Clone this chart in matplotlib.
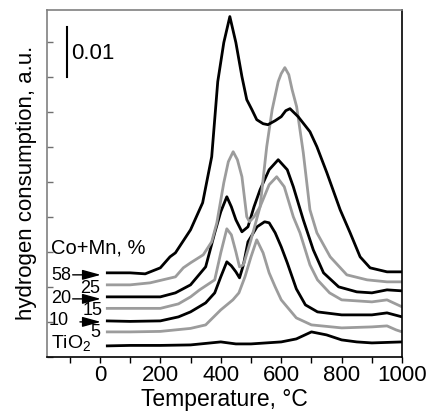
import matplotlib
matplotlib.use('Agg')
import matplotlib.pyplot as plt
from matplotlib.ticker import MultipleLocator, NullFormatter

plt.rcParams['font.family'] = ['Liberation Sans', 'DejaVu Sans']

# TPR curves, signal in 1e-3 a.u. (vertical offsets as in the figure)
t_tio2 = [20, 100, 200, 300, 400, 450, 500, 550, 600, 650, 700, 750, 800, 850, 900, 950, 1000]
y_tio2 = [2.2, 2.3, 2.3, 2.4, 3.0, 2.6, 2.6, 2.8, 3.0, 3.6, 5.0, 4.4, 3.4, 3.0, 2.8, 2.9, 3.0]

t_5 = [20, 100, 200, 300, 350, 400, 420, 440, 460, 480, 500, 519, 540, 560, 580, 600, 650, 700, 800, 900, 950, 980, 1000]
y_5 = [5.0, 5.0, 5.1, 5.7, 6.4, 9.4, 10.4, 11.4, 12.8, 16.0, 20.0, 23.4, 20.8, 16.8, 14.0, 11.4, 7.8, 6.4, 5.8, 6.0, 6.2, 5.4, 5.0]

t_10 = [20, 100, 200, 260, 300, 350, 380, 400, 420, 435, 450, 462, 475, 490, 520, 545, 560, 580, 600, 620, 650, 680, 720, 800, 900, 950, 1000]
y_10 = [7.2, 7.1, 7.2, 8.0, 9.0, 10.8, 12.8, 16.0, 19.0, 18.2, 17.0, 15.8, 18.4, 23.0, 26.0, 27.0, 26.8, 24.8, 22.0, 18.8, 13.6, 10.4, 9.0, 8.4, 8.4, 8.8, 8.0]

t_15 = [20, 100, 200, 260, 300, 330, 380, 400, 420, 435, 450, 462, 475, 500, 530, 560, 585, 610, 640, 662, 695, 720, 760, 800, 900, 950, 1000]
y_15 = [9.7, 9.7, 9.7, 10.6, 12.0, 13.4, 15.4, 20.8, 25.6, 24.4, 21.0, 18.0, 18.4, 23.4, 30.0, 34.4, 36.0, 34.0, 28.0, 24.8, 18.4, 15.4, 12.8, 11.4, 11.0, 11.4, 10.0]

t_20 = [20, 100, 200, 250, 300, 350, 380, 400, 420, 435, 450, 470, 490, 510, 530, 560, 590, 620, 640, 673, 706, 740, 790, 850, 900, 950, 1000]
y_20 = [12.0, 12.0, 12.0, 12.8, 14.4, 18.0, 24.8, 29.0, 32.0, 30.0, 27.4, 25.0, 26.0, 30.0, 33.4, 37.4, 39.4, 37.4, 34.0, 27.4, 21.4, 16.8, 14.0, 13.0, 12.8, 13.4, 13.2]

t_25 = [20, 100, 166, 250, 276, 300, 342, 370, 387, 410, 425, 441, 455, 470, 486, 495, 510, 530, 552, 570, 590, 600, 612, 625, 636, 651, 673, 695, 718, 762, 817, 884, 950, 1000]
y_25 = [14.4, 14.4, 14.8, 16.0, 17.8, 18.8, 20.4, 23.0, 26.8, 34.8, 39.0, 41.0, 39.4, 36.0, 28.0, 27.0, 28.0, 30.0, 42.0, 49.4, 55.0, 56.6, 57.8, 56.4, 53.4, 50.0, 40.8, 29.4, 24.8, 20.0, 16.4, 15.4, 15.0, 15.0]

t_58 = [20, 100, 150, 200, 232, 250, 300, 340, 370, 390, 410, 430, 450, 470, 486, 503, 519, 540, 556, 580, 600, 615, 629, 656, 695, 718, 751, 795, 828, 861, 894, 950, 1000]
y_58 = [16.8, 16.8, 16.6, 17.8, 20.0, 20.8, 25.4, 30.8, 40.0, 55.0, 62.8, 68.0, 62.8, 56.0, 51.4, 49.4, 47.4, 46.6, 46.4, 47.2, 48.0, 49.2, 49.6, 48.0, 45.0, 42.0, 36.8, 29.4, 24.8, 20.0, 17.8, 17.0, 17.0]

black = '#000000'
gray = '#9c9c9c'

fig = plt.figure(figsize=(4.31, 4.16), dpi=100)
ax = fig.add_axes([0.109, 0.142, 0.824, 0.835])

curves = [
    (t_tio2, y_tio2, black),
    (t_5, y_5, gray),
    (t_10, y_10, black),
    (t_15, y_15, gray),
    (t_20, y_20, black),
    (t_25, y_25, gray),
    (t_58, y_58, black),
]
for t, y, c in curves:
    ax.plot(t, y, color=c, lw=2.0, solid_joinstyle='round', solid_capstyle='butt')

ax.set_xlim(-175, 1000)
ax.set_ylim(0, 69.4)

ax.xaxis.set_major_locator(MultipleLocator(200))
ax.xaxis.set_minor_locator(MultipleLocator(100))
ax.yaxis.set_major_locator(MultipleLocator(7))
ax.yaxis.set_major_formatter(NullFormatter())
ax.tick_params(axis='x', which='both', direction='out', length=4, width=1, labelsize=16, pad=2)
ax.tick_params(axis='y', which='major', direction='in', length=4, width=1, color='#707070')

for side in ['top', 'left']:
    ax.spines[side].set_color('#808080')
ax.spines['right'].set_color(black)
ax.spines['bottom'].set_color(black)
for s in ax.spines.values():
    s.set_linewidth(1.2)

ax.set_xlabel('Temperature, °C', fontsize=16.5, labelpad=1)
ax.set_ylabel('hydrogen consumption, a.u.', fontsize=16, labelpad=4)

# scale bar
ax.plot([-109, -109], [56, 66], color=black, lw=1.5)
ax.text(-95, 60.6, '0.01', fontsize=16, va='center', ha='left')

# sample labels
ax.text(-162, 21.8, 'Co+Mn, %', fontsize=14.5, va='center', ha='left')
ax.text(-162, 16.3, '58', fontsize=13, va='center', ha='left')
ax.text(-64, 13.6, '25', fontsize=13, va='center', ha='left')
ax.text(-162, 11.6, '20', fontsize=13, va='center', ha='left')
ax.text(-58, 9.2, '15', fontsize=13, va='center', ha='left')
ax.text(-170, 7.2, '10', fontsize=13, va='center', ha='left')
ax.text(-32, 4.8, '5', fontsize=13, va='center', ha='left')
ax.text(-162, 2.6, 'TiO$_\\mathregular{2}$', fontsize=14, va='center', ha='left')

arrow_kw = dict(arrowstyle='-|>,head_length=0.8,head_width=0.22', color=black,
                lw=1.0, mutation_scale=14, shrinkA=0, shrinkB=0)
ax.annotate('', xy=(3, 16.4), xytext=(-90, 16.4), arrowprops=arrow_kw)
ax.annotate('', xy=(3, 11.6), xytext=(-90, 11.6), arrowprops=arrow_kw)
ax.annotate('', xy=(3, 7.0), xytext=(-66, 7.0), arrowprops=arrow_kw)

fig.savefig('out.png', dpi=100)
